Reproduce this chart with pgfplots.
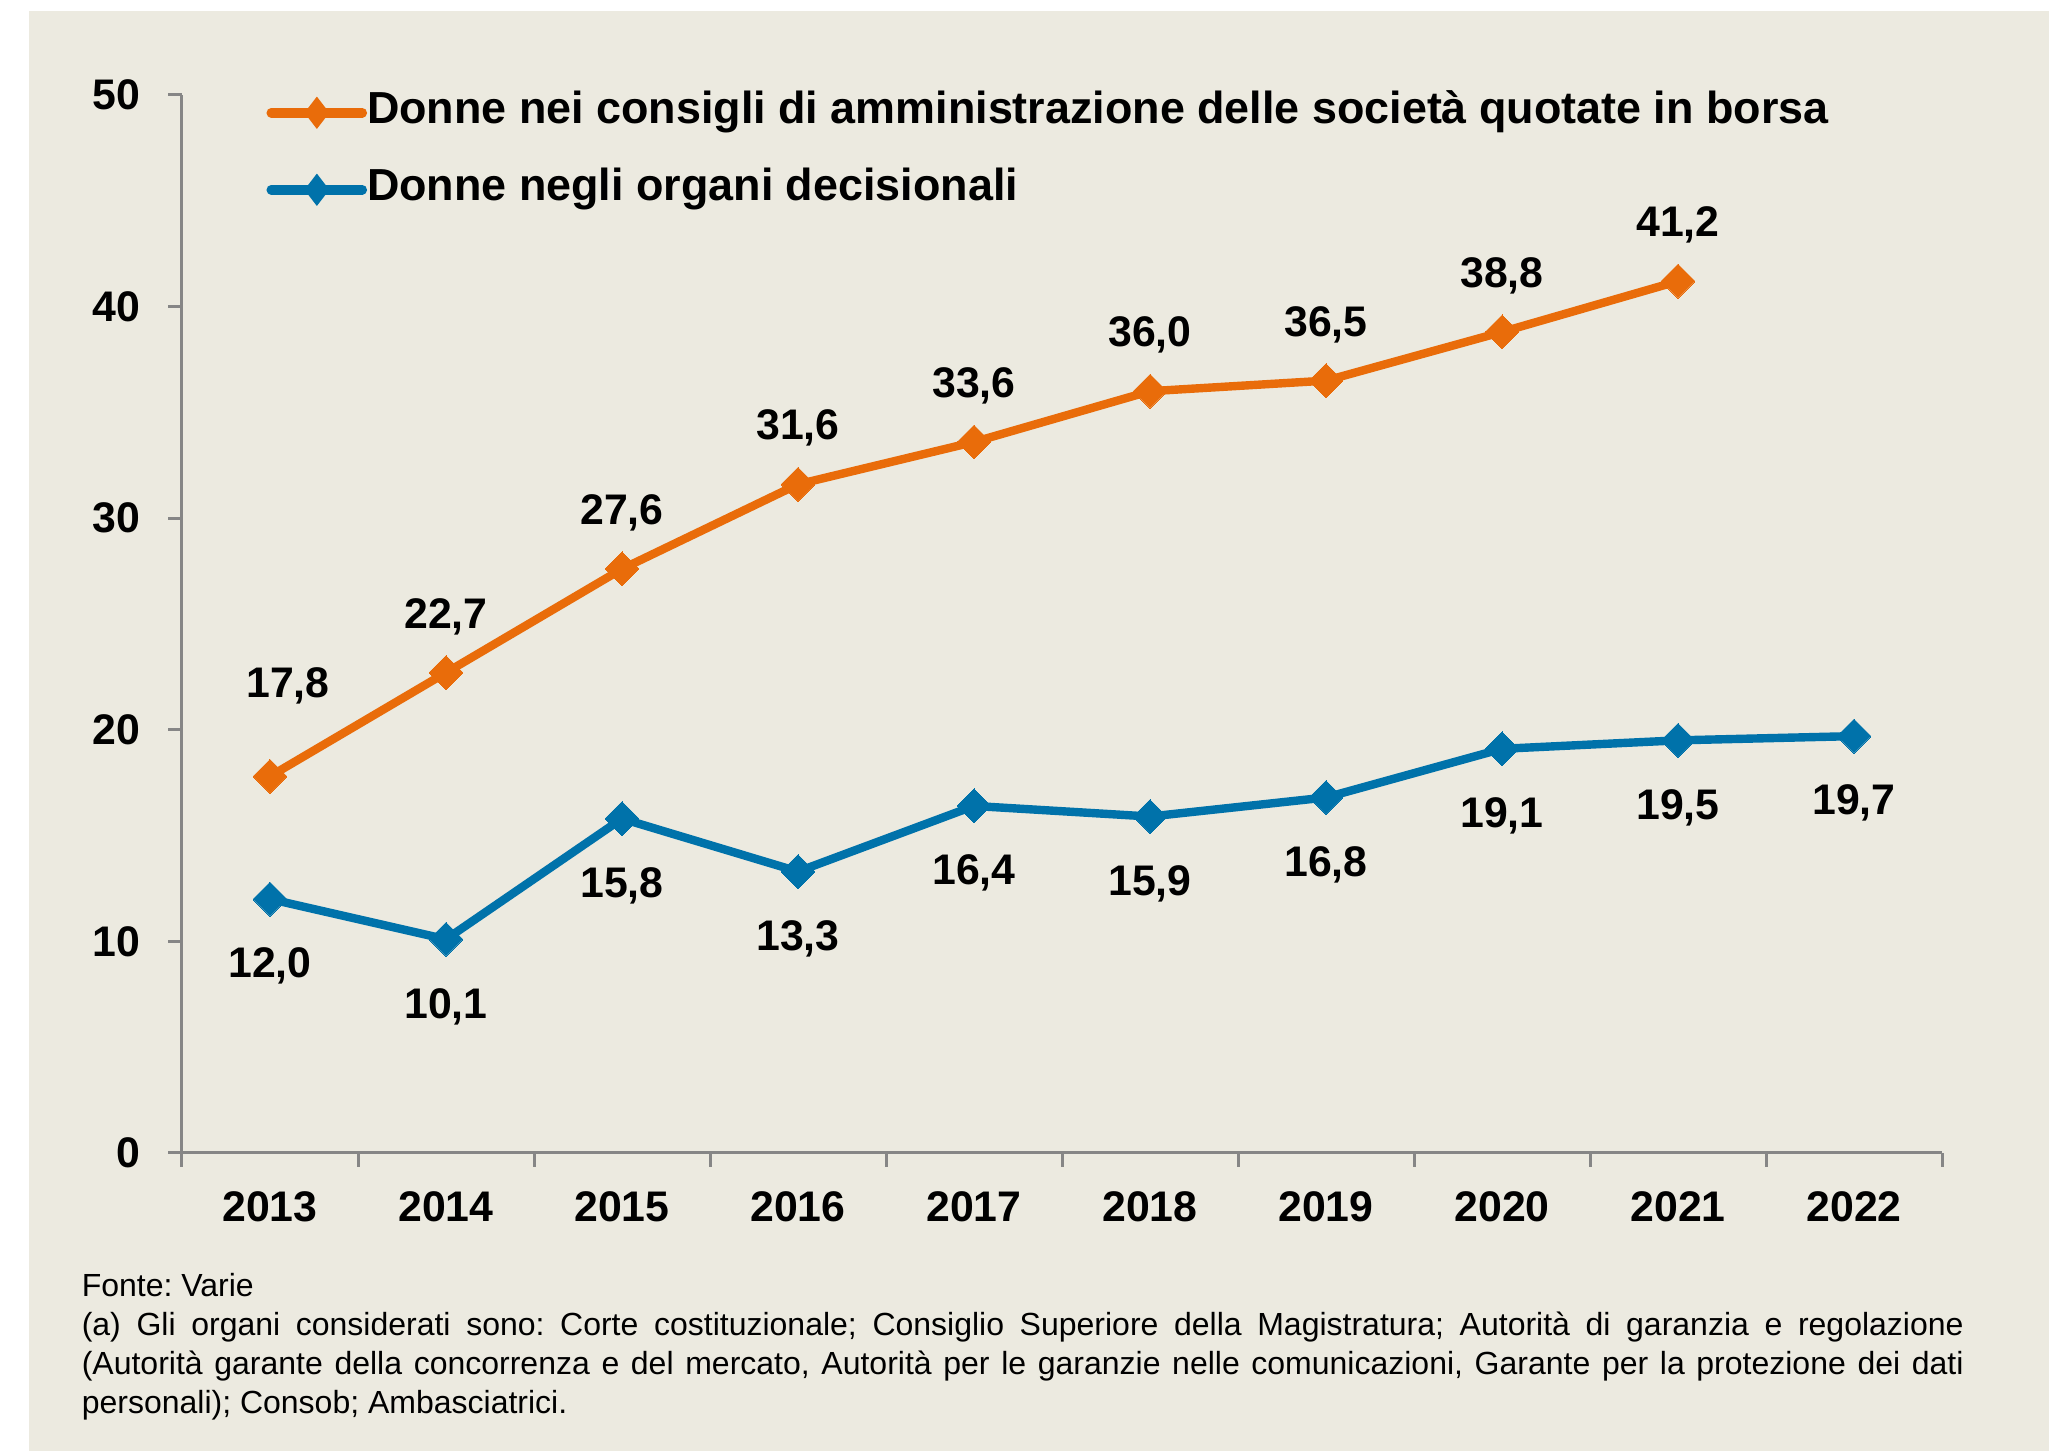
\documentclass[border=0pt]{standalone}
\usepackage{fontspec}
\setmainfont{Liberation Sans}
\usepackage{pgfplots}
\pgfplotsset{compat=1.18}
\usepackage{pgfplotstable}
\definecolor{bg}{RGB}{236,234,224}
\definecolor{sorange}{RGB}{233,108,10}
\definecolor{sblue}{RGB}{0,114,170}
\definecolor{axgray}{RGB}{134,134,134}

\pgfplotstableread{
x y off xoff
0 17.8 22.5 4.5
1 22.7 14 0
2 27.6 14 0
3 31.6 14 0
4 33.6 14 0
5 36.0 14 0
6 36.5 14 0
7 38.8 14 0
8 41.2 14 0
}\orangedata

\pgfplotstableread{
x y off xoff
0 12.0 -16.8 0
1 10.1 -16.8 0
2 15.8 -16.8 0
3 13.3 -16.8 0
4 16.4 -16.8 0
5 15.9 -16.8 0
6 16.8 -16.8 0
7 19.1 -16.8 0
8 19.5 -16.8 0
9 19.7 -16.8 0
}\bluedata

\begin{document}
\frenchspacing
\begin{tikzpicture}
\fill[white] (0,0) rectangle (512.25pt,362.75pt);
\fill[bg] (7.25pt,0) rectangle (512.25pt,360pt);
\begin{axis}[
  at={(45.5pt,74.5pt)}, anchor=south west,
  scale only axis, width=440pt, height=264.5pt,
  xmin=-0.5, xmax=9.5, ymin=0, ymax=50,
  axis x line*=bottom, axis y line*=left,
  axis line style={axgray, line width=0.75pt},
  every tick/.style={axgray, line width=0.75pt},
  tick align=outside, major tick length=3.4pt,
  xtick={-0.5,0.5,...,9.5},
  xticklabels={2013,2014,2015,2016,2017,2018,2019,2020,2021,2022},
  x tick label as interval,
  ytick={0,10,...,50},
  /pgf/number format/assume math mode=true,
  tick label style={font=\bfseries\fontsize{10.7}{12}\selectfont, text=black, inner sep=0pt},
  yticklabel style={anchor=east, xshift=-6.8pt},
  xticklabel style={anchor=north, yshift=-6pt},
  clip=false,
  legend cell align=left,
  legend style={at={(rel axis cs:0.0489,1)}, anchor=north west, yshift=1.25pt, xshift=-0.6pt,
    draw=none, fill=none, inner sep=0pt, row sep=8.25pt,
    font=\bfseries\fontsize{11.22}{13}\selectfont,
    nodes={inner sep=0pt, text height=8.25pt, text depth=2.75pt},
    /tikz/every even column/.append style={column sep=0.6pt}},
  legend image code/.code={
    \draw[#1, mark=none, line cap=round, line width=2.4pt] (0pt,0pt) -- (22.75pt,0pt);
    \draw[#1, draw opacity=0, mark size=2.2pt, mark options={yscale=1.3, rotate=45, line width=0pt}] plot coordinates {(11.4pt,0pt)};
  },
  nodes near coords={\pgfmathprintnumber[fixed,fixed zerofill,precision=1,use comma]{\pgfplotspointmeta}},
  every node near coord/.append style={font=\bfseries\fontsize{10.7}{12}\selectfont, text=black, anchor=center},
]
\addplot[sorange, line width=2.1pt, mark=square*, mark size=3.0pt,
  mark options={rotate=45, fill=sorange, draw=sorange, line width=0pt},
  visualization depends on={\thisrow{off} \as \myoff},
  visualization depends on={\thisrow{xoff} \as \myxoff},
  every node near coord/.append style={yshift=\myoff pt, xshift=\myxoff pt}]
  table[x=x, y=y] {\orangedata};
\addlegendentry{Donne nei consigli di amministrazione delle società quotate in borsa}
\addplot[sblue, line width=2.1pt, mark=square*, mark size=3.0pt,
  mark options={rotate=45, fill=sblue, draw=sblue, line width=0pt},
  visualization depends on={\thisrow{off} \as \myoff},
  visualization depends on={\thisrow{xoff} \as \myxoff},
  every node near coord/.append style={yshift=\myoff pt, xshift=\myxoff pt}]
  table[x=x, y=y] {\bluedata};
\addlegendentry{Donne negli organi decisionali}
\end{axis}
\node[anchor=north west, inner sep=0pt, text width=470.5pt, align=justify,
  font=\fontsize{8}{9.75}\selectfont] at (20.25pt,44.6pt)
  {\hyphenpenalty=10000 \frenchspacing Fonte: Varie\par
  (a) Gli organi considerati sono: Corte costituzionale; Consiglio Superiore della Magistratura; Autorità di garanzia e regolazione\linebreak
  (Autorità garante della concorrenza e del mercato, Autorità per le garanzie nelle comunicazioni, Garante per la protezione dei dati\linebreak
  personali); Consob; Ambasciatrici.};
\end{tikzpicture}
\end{document}
